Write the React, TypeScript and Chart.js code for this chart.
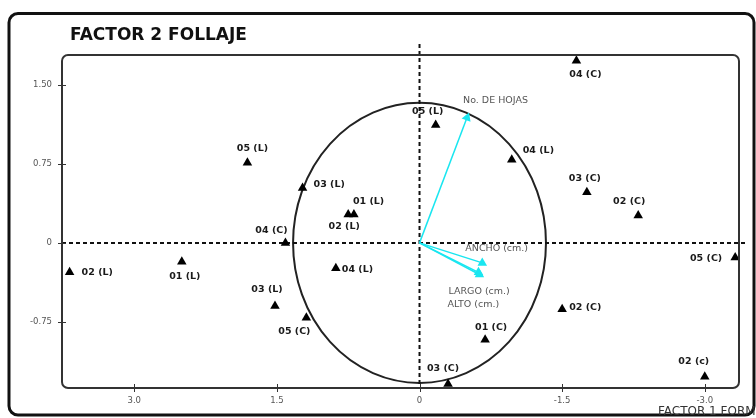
import React, { useEffect, useRef } from 'react';
import { Chart, registerables } from 'chart.js';

Chart.register(...registerables);

const FONT = '"DejaVu Sans", Verdana, sans-serif';

// ---- data ----
const pointLabels = [
  '05 (L)', '03 (L)', '01 (L)', '02 (L)', '04 (C)', '02 (L)', '01 (L)', '03 (L)', '05 (C)', '04 (L)',
  '05 (L)', '04 (C)', '04 (L)', '03 (C)', '02 (C)', '05 (C)', '02 (C)', '01 (C)', '03 (C)', '02 (c)',
];
const pointX = [1.81, 1.23, 0.69, 0.75, 1.41, 3.68, 2.5, 1.52, 1.19, 0.88, -0.17, -1.65, -0.97, -1.76, -2.3, -3.32, -1.5, -0.69, -0.3, -3.0];
const pointY = [0.76, 0.52, 0.27, 0.27, 0.0, -0.28, -0.18, -0.6, -0.71, -0.24, 1.12, 1.73, 0.79, 0.48, 0.26, -0.14, -0.63, -0.92, -1.34, -1.27];

const variableNames = ['No. DE HOJAS', 'ANCHO (cm.)', 'LARGO (cm.)', 'ALTO (cm.)'];
const loadingX = [-0.5, -0.66, -0.63, -0.62];
const loadingY = [1.19, -0.19, -0.3, -0.28];

const xTicks = [3.0, 1.5, 0, -1.5, -3.0];
const yTicks = [1.5, 0.75, 0, -0.75];
const circleRadius = 1.33;

const chartTitle = 'FACTOR 2 FOLLAJE';
const xAxisTitle = 'FACTOR 1 FORM';

// ---- layout / style (pixel offsets of labels from their marks) ----
const pointLabelPlacement: [CanvasTextAlign, number, number][] = [
  ['center', 5, -14], ['left', 11, -4], ['left', -1, -13], ['center', -4, 12], ['center', -14, -12],
  ['left', 12, 0], ['center', 3, 15], ['center', -8, -17], ['center', -12, 14], ['left', 6, 1],
  ['center', -8, -13], ['center', 9, 14], ['left', 11, -9], ['center', -2, -14], ['center', -9, -14],
  ['right', -13, 1], ['left', 7, -2], ['center', 6, -12], ['center', -5, -15], ['center', -11, -15],
];
const variableLabelPlacement: [CanvasTextAlign, number, number][] = [
  ['left', -4, -17], ['left', -17, -14], ['left', -31, 17], ['left', -31, 32],
];
const arrowRotations = [21, 0, 0, 0];
const CYAN = '#19e6f0';

const decorPlugin = {
  id: 'biplotDecor',
  beforeDatasetsDraw(chart: any) {
    const { ctx, chartArea: a, scales } = chart;
    const xs = scales.x, ys = scales.y;
    const cx = xs.getPixelForValue(0);
    const cy = ys.getPixelForValue(0);
    const rx = Math.abs(xs.getPixelForValue(circleRadius) - cx);
    const ry = Math.abs(ys.getPixelForValue(circleRadius) - cy);
    ctx.save();
    // circle of correlations
    ctx.beginPath();
    ctx.ellipse(cx, cy, rx, ry, 0, 0, Math.PI * 2);
    ctx.strokeStyle = '#222';
    ctx.lineWidth = 2;
    ctx.stroke();
    // dashed axes
    ctx.setLineDash([4, 3]);
    ctx.lineWidth = 2;
    ctx.strokeStyle = '#111';
    ctx.beginPath();
    ctx.moveTo(cx, a.top - 11);
    ctx.lineTo(cx, a.bottom);
    ctx.moveTo(a.left, cy);
    ctx.lineTo(a.right + 9, cy);
    ctx.stroke();
    ctx.restore();
  },
  afterDatasetsDraw(chart: any) {
    const { ctx, scales } = chart;
    const xs = scales.x, ys = scales.y;
    ctx.save();
    ctx.textBaseline = 'middle';
    ctx.font = `bold 9.5px ${FONT}`;
    ctx.fillStyle = '#1a1a1a';
    pointLabels.forEach((t, i) => {
      const [al, dx, dy] = pointLabelPlacement[i];
      ctx.textAlign = al;
      ctx.fillText(t, xs.getPixelForValue(pointX[i]) + dx, ys.getPixelForValue(pointY[i]) + dy);
    });
    ctx.font = `9.5px ${FONT}`;
    ctx.fillStyle = '#555';
    variableNames.forEach((t, i) => {
      const [al, dx, dy] = variableLabelPlacement[i];
      ctx.textAlign = al;
      ctx.fillText(t, xs.getPixelForValue(loadingX[i]) + dx, ys.getPixelForValue(loadingY[i]) + dy);
    });
    ctx.restore();
  },
  afterDraw(chart: any) {
    const { ctx, chartArea: a, scales } = chart;
    ctx.save();
    // inner rounded border
    ctx.beginPath();
    ctx.roundRect(a.left, a.top, a.right - a.left, a.bottom - a.top, 6);
    ctx.strokeStyle = '#333';
    ctx.lineWidth = 2;
    ctx.stroke();
    // outer frame
    ctx.beginPath();
    ctx.roundRect(9, 13.5, 745, 401.5, 9);
    ctx.strokeStyle = '#111';
    ctx.lineWidth = 3;
    ctx.stroke();
    // tick crosses
    ctx.strokeStyle = '#333';
    ctx.lineWidth = 1;
    ctx.beginPath();
    yTicks.forEach((v) => {
      const p = Math.round(scales.y.getPixelForValue(v)) + 0.5;
      ctx.moveTo(a.left - 4, p);
      ctx.lineTo(a.left + 4, p);
    });
    xTicks.forEach((v) => {
      const p = Math.round(scales.x.getPixelForValue(v)) + 0.5;
      ctx.moveTo(p, a.bottom - 4);
      ctx.lineTo(p, a.bottom + 4);
    });
    ctx.stroke();
    // title
    ctx.fillStyle = '#111';
    ctx.font = `bold 17px ${FONT}`;
    ctx.textAlign = 'left';
    ctx.textBaseline = 'alphabetic';
    ctx.fillText(chartTitle, 70, 39.5);
    // axis title
    ctx.fillStyle = '#333';
    ctx.font = `12px ${FONT}`;
    ctx.textBaseline = 'middle';
    ctx.fillText(xAxisTitle, 658, 412);
    ctx.restore();
  },
};

export default function App() {
  const ref = useRef<HTMLCanvasElement | null>(null);
  useEffect(() => {
    document.body.style.margin = '0';
    const canvas = ref.current;
    if (!canvas) return;
    const arrowSets = variableNames.map((name, i) => ({
      label: name,
      data: [{ x: 0, y: 0 }, { x: loadingX[i], y: loadingY[i] }],
      showLine: true,
      borderColor: CYAN,
      borderWidth: 1.5,
      backgroundColor: CYAN,
      pointBackgroundColor: CYAN,
      pointBorderColor: CYAN,
      pointStyle: 'triangle',
      pointRadius: [0, 5.5],
      pointRotation: [0, arrowRotations[i]],
      pointBorderWidth: 0,
      clip: false,
    }));
    const chart = new Chart(canvas, {
      type: 'scatter',
      data: {
        datasets: [
          ...arrowSets,
          {
            label: 'Observaciones',
            data: pointX.map((x, i) => ({ x, y: pointY[i] })),
            pointStyle: 'triangle',
            pointRadius: 5.5,
            pointBackgroundColor: '#000',
            pointBorderColor: '#000',
            pointBorderWidth: 0,
            clip: false,
          } as any,
        ],
      },
      options: {
        responsive: false,
        animation: false,
        devicePixelRatio: 1,
        layout: { padding: { top: 55, right: 17, left: 0, bottom: 0 } },
        plugins: { legend: { display: false }, tooltip: { enabled: false } },
        scales: {
          x: {
            type: 'linear',
            reverse: true,
            min: -3.36,
            max: 3.76,
            afterBuildTicks: (s: any) => { s.ticks = xTicks.map((v) => ({ value: v })); },
            afterFit: (s: any) => { s.height = 30; },
            grid: { display: false, drawTicks: false },
            border: { display: false },
            ticks: {
              autoSkip: false,
              maxRotation: 0,
              padding: 8,
              color: '#555',
              font: { family: FONT, size: 8.5 },
              callback: (v: any) => (v === 0 ? '0' : Number(v).toFixed(1)),
            },
          },
          y: {
            type: 'linear',
            min: -1.378,
            max: 1.784,
            afterBuildTicks: (s: any) => { s.ticks = yTicks.map((v) => ({ value: v })); },
            afterFit: (s: any) => { s.width = 62; },
            grid: { display: false, drawTicks: false },
            border: { display: false },
            ticks: {
              autoSkip: false,
              padding: 10,
              color: '#555',
              font: { family: FONT, size: 8.5 },
              callback: (v: any) => (v === 0 ? '0' : Number(v).toFixed(2)),
            },
          },
        },
      },
      plugins: [decorPlugin],
    } as any);
    return () => chart.destroy();
  }, []);
  return (
    <div style={{ position: 'absolute', left: 0, top: 0, width: 756, height: 418, background: '#fff' }}>
      <canvas ref={ref} width={756} height={418} style={{ display: 'block', width: 756, height: 418 }} />
    </div>
  );
}
